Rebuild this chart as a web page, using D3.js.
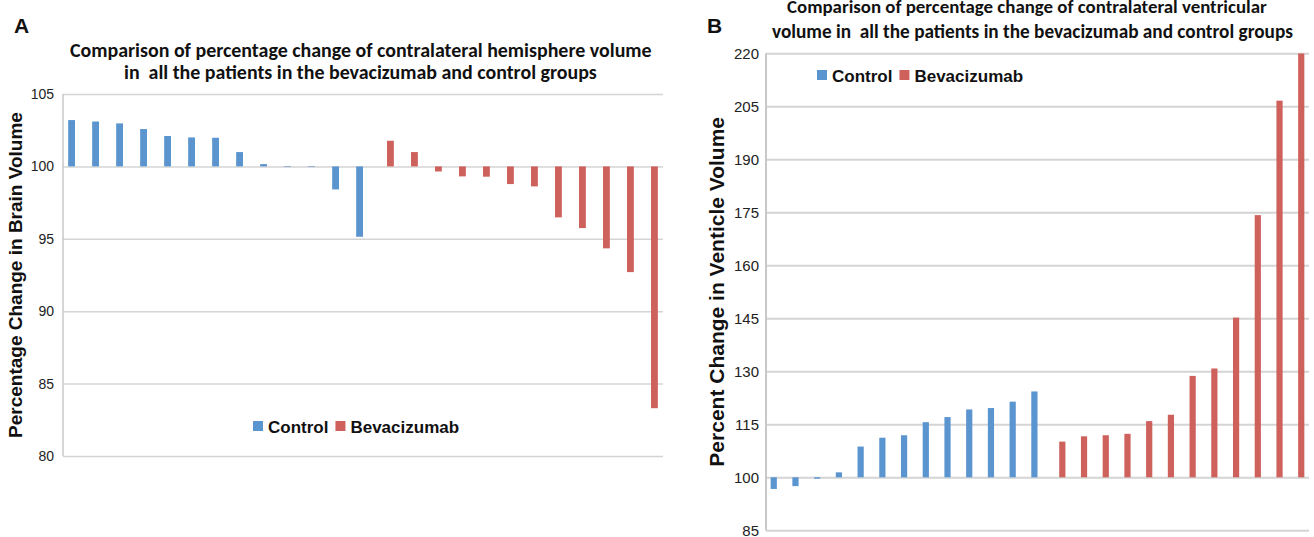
<!DOCTYPE html>
<html>
<head>
<meta charset="utf-8">
<script src="https://cdn.jsdelivr.net/npm/d3@7"></script>
<style>
  html, body { margin: 0; padding: 0; background: #fff; }
  svg { display: block; }
</style>
</head>
<body>
<svg id="chart" width="1314" height="537"></svg>
<script>
// values, patients sorted as in the original
const groups = ["Control", "Bevacizumab"];

const brainControl = [103.2, 103.1, 102.97, 102.58, 102.1, 102.0, 101.98, 100.99, 100.16, 100.02, 99.98, 98.41, 95.14];
const brainBev = [101.77, 100.99, 99.65, 99.31, 99.29, 98.78, 98.62, 96.48, 95.74, 94.34, 92.7, 83.3];
const brainTicks = [80, 85, 90, 95, 100, 105];

const ventControl = [96.7, 97.5, 99.6, 101.4, 108.7, 111.2, 111.9, 115.6, 117.05, 119.2, 119.6, 121.4, 124.3];
const ventBev = [110.1, 111.6, 111.9, 112.3, 115.9, 117.7, 128.7, 130.8, 145.2, 174.2, 206.6, 220];
const ventTicks = [85, 100, 115, 130, 145, 160, 175, 190, 205, 220];

const colors = { Control: "#5b95cf", Bevacizumab: "#cf615c" };
const titleFont = "Carlito, Lato, 'Open Sans', sans-serif";

const svg = d3.select("#chart");

function toRows(control, bev) {
  let rows = control.map(v => ({ group: "Control", value: v }));
  bev.forEach(v => rows.push({ group: "Bevacizumab", value: v }));
  return rows.map((r, i) => ({ ...r, patient: String(i + 1) }));
}

// scale the font so the line fills the width it has in the figure
function fitText(sel, width) {
  let size = parseFloat(sel.attr("font-size")),
      w = sel.node().getComputedTextLength();
  sel.attr("font-size", size * width / w);
}

function panel(opt) {
  let rows = toRows(opt.control, opt.bev),
      g = svg.append("g");

  let x = d3.scaleBand()
    .domain(rows.map(d => d.patient))
    .range([opt.x0, opt.x1]);

  let xs = d3.scaleBand()
    .domain(groups)
    .range([0, x.bandwidth()])
    .paddingOuter(0.75);

  let y = d3.scaleLinear()
    .domain(d3.extent(opt.ticks))
    .range([opt.y1, opt.y0]);

  // gridlines + tick labels
  let axis = g.append("g")
    .attr("transform", `translate(${opt.x0},0)`)
    .call(d3.axisLeft(y)
      .tickValues(opt.ticks)
      .tickSize(-(opt.x1 - opt.x0))
      .tickPadding(opt.tickPad)
      .tickFormat(d3.format("d")));

  axis.select(".domain").remove();
  axis.selectAll(".tick line")
    .attr("x1", 4)
    .attr("x2", opt.x1 - opt.x0 + 4)
    .attr("transform", "translate(-4,0)")
    .attr("stroke", "#d4d4d4")
    .attr("stroke-width", opt.gridW);
  axis.selectAll(".tick text")
    .attr("fill", "#222")
    .attr("font-family", opt.tickFont)
    .attr("font-size", opt.tickSize);

  g.append("line")
    .attr("x1", opt.x0).attr("x2", opt.x0)
    .attr("y1", opt.y0).attr("y2", opt.y1)
    .attr("stroke", "#c8c8c8")
    .attr("stroke-width", opt.gridW);

  let clipId = "clip" + opt.name;
  g.append("clipPath").attr("id", clipId)
    .append("rect")
    .attr("x", opt.x0).attr("y", opt.y0)
    .attr("width", opt.x1 - opt.x0).attr("height", opt.y1 - opt.y0);

  g.append("g")
    .attr("clip-path", `url(#${clipId})`)
    .selectAll("rect")
    .data(rows)
    .join("rect")
    .attr("x", d => x(d.patient) + xs(d.group))
    .attr("width", xs.bandwidth())
    .attr("y", d => y(Math.max(d.value, 100)))
    .attr("height", d => Math.max(0.6, Math.abs(y(d.value) - y(100))))
    .attr("fill", d => colors[d.group]);

  // legend
  let leg = g.append("g")
    .attr("transform", `translate(${opt.legX},${opt.legY})`);
  let lx = 0;
  groups.forEach(name => {
    leg.append("rect")
      .attr("x", lx).attr("y", -12)
      .attr("width", 10).attr("height", 10)
      .attr("fill", colors[name]);
    let t = leg.append("text")
      .attr("x", lx + 15)
      .attr("font-family", "'Liberation Sans', Arial, sans-serif")
      .attr("font-weight", "bold")
      .attr("font-size", 17)
      .attr("fill", "#111")
      .text(name);
    lx += 15 + t.node().getComputedTextLength() + 7;
  });

  // y axis title
  g.append("text")
    .attr("transform", `translate(${opt.labX},${(opt.y0 + opt.y1) / 2}) rotate(-90)`)
    .attr("text-anchor", "middle")
    .attr("font-family", "'Liberation Sans', Arial, sans-serif")
    .attr("font-weight", "bold")
    .attr("font-size", opt.labSize)
    .attr("fill", "#111")
    .text(opt.yLabel);

  // chart title, two lines
  opt.title.forEach((line, i) => {
    let t = g.append("text")
      .attr("x", opt.titleX[i])
      .attr("y", opt.titleY[i])
      .attr("font-family", titleFont)
      .attr("font-weight", "bold")
      .attr("font-size", 19)
      .attr("fill", "#111")
      .attr("xml:space", "preserve")
      .style("white-space", "pre")
      .text(line);
    fitText(t, opt.titleW[i]);
  });

  svg.append("text")
    .attr("x", opt.letterX).attr("y", 33)
    .attr("font-family", "'Liberation Sans', Arial, sans-serif")
    .attr("font-weight", "bold")
    .attr("font-size", 21)
    .attr("fill", "#111")
    .text(opt.name);
}

panel({
  name: "A",
  control: brainControl, bev: brainBev, ticks: brainTicks,
  x0: 63, x1: 663, y0: 94, y1: 456,
  gridW: 1.5, tickPad: 9,
  tickFont: "'Liberation Sans', Arial, sans-serif", tickSize: 14,
  legX: 253, legY: 433,
  labX: 22, labSize: 19,
  yLabel: "Percentage Change in Brain Volume",
  title: ["Comparison of percentage change of contralateral hemisphere volume",
          "in  all the patients in the bevacizumab and control groups"],
  titleX: [70, 124], titleY: [57, 79], titleW: [582, 473],
  letterX: 14
});

panel({
  name: "B",
  control: ventControl, bev: ventBev, ticks: ventTicks,
  x0: 766, x1: 1309, y0: 53.3, y1: 530.3,
  gridW: 2, tickPad: 7,
  tickFont: "'Liberation Sans Narrow', 'Arial Narrow', sans-serif", tickSize: 15,
  legX: 817, legY: 82,
  labX: 724, labSize: 21,
  yLabel: "Percent Change in Venticle Volume",
  title: ["Comparison of percentage change of contralateral ventricular",
          "volume in  all the patients in the bevacizumab and control groups"],
  titleX: [787, 772], titleY: [12.5, 38], titleW: [480, 521],
  letterX: 707
});
</script>
</body>
</html>
